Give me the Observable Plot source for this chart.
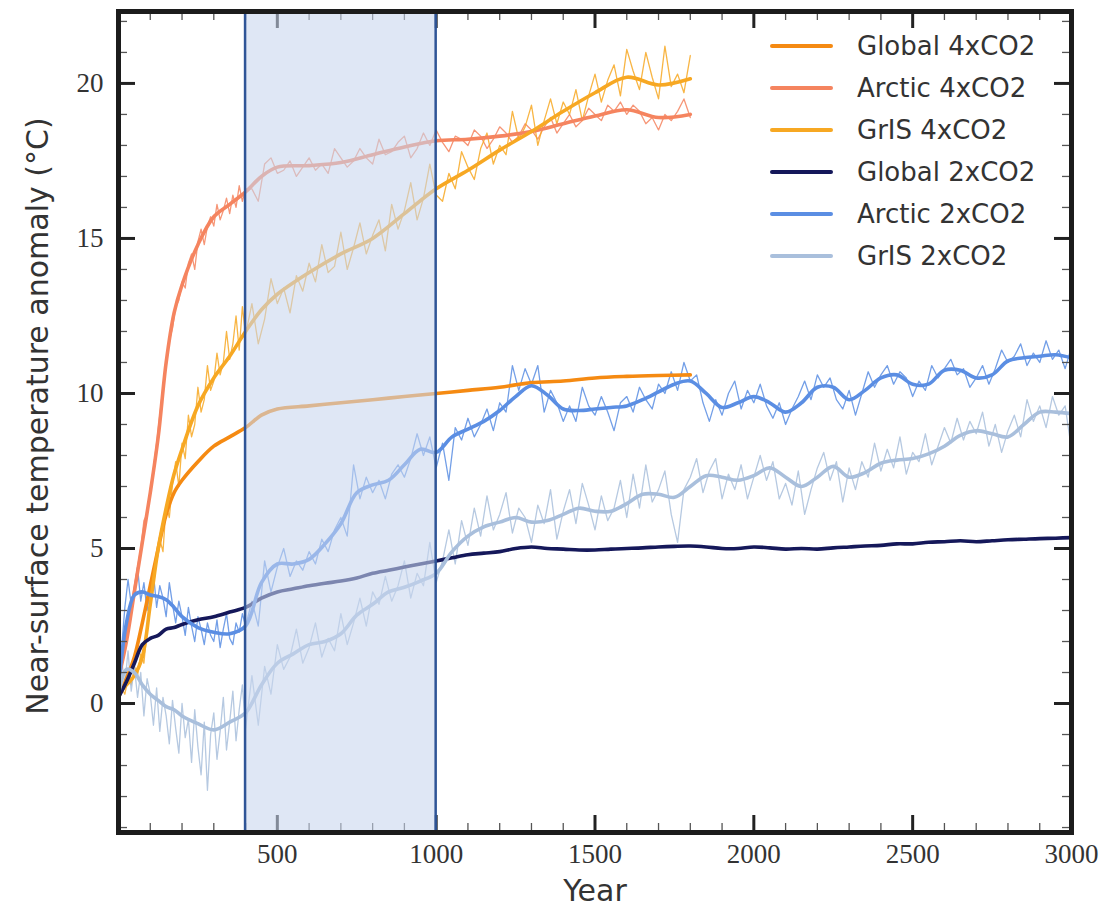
<!DOCTYPE html>
<html><head><meta charset="utf-8">
<script src="https://cdn.jsdelivr.net/npm/d3@7"></script>
<script src="https://cdn.jsdelivr.net/npm/@observablehq/plot@0.6"></script>
<style>
body{margin:0;background:#fff;}
#wrap{position:relative;width:1107px;height:920px;}
#legend{position:absolute;left:770px;top:25px;font-family:"DejaVu Sans";font-size:26px;color:#333;}
.item{display:flex;align-items:center;height:42px;}
.sw{width:63px;height:4px;border-radius:2px;margin-right:24px;}
</style></head><body><div id="wrap"><div id="legend"></div></div>
<script>
// ---------- data ----------
const seriesNames = ["Global 4xCO2","Arctic 4xCO2","GrIS 4xCO2","Global 2xCO2","Arctic 2xCO2","GrIS 2xCO2"];
const seriesColors = ["#f58a12","#f5845f","#f7a823","#15185a","#5b8ee3","#a9bfdc"];
const xTickValues = [500,1000,1500,2000,2500,3000];
const yTickValues = [0,5,10,15,20];
const xLabel = "Year";
const yLabel = "Near-surface temperature anomaly (°C)";
const shadedPeriod = [400, 1000];

const smooth4Years = [0,25,50,75,100,125,150,175,200,250,300,350,400,450,500,600,700,800,900,1000,1100,1200,1300,1400,1500,1600,1700,1800];
const global4Smooth = [0.2,0.8,1.5,2.6,3.8,5.0,6.1,6.8,7.2,7.8,8.3,8.6,8.9,9.3,9.5,9.6,9.7,9.8,9.9,10.0,10.1,10.2,10.35,10.4,10.5,10.55,10.58,10.6];
const arctic4Smooth = [0.8,2.0,3.6,5.2,6.8,8.6,11.0,12.6,13.5,14.8,15.7,16.1,16.5,17.0,17.3,17.35,17.45,17.7,17.95,18.15,18.2,18.3,18.45,18.7,18.95,19.15,18.9,19.0];
const gris4Smooth = [0.3,0.6,0.9,1.5,3.2,5.0,6.3,7.4,8.2,9.6,10.5,11.2,12.0,12.7,13.2,13.9,14.5,15.0,15.8,16.6,17.2,17.85,18.45,19.1,19.7,20.2,19.95,20.15];

const smooth2Years = [0,25,50,75,100,125,150,175,200,250,300,350,400,450,500,550,600,650,700,750,800,850,900,950,1000,
  1050,1100,1150,1200,1250,1300,1350,1400,1450,1500,1550,1600,1650,1700,1750,1800,1850,1900,1950,2000,
  2050,2100,2150,2200,2250,2300,2350,2400,2450,2500,2550,2600,2650,2700,2750,2800,2850,2900,2950,3000];
const global2Smooth = [0.2,0.7,1.3,1.9,2.1,2.2,2.4,2.45,2.55,2.7,2.8,2.95,3.1,3.4,3.6,3.7,3.8,3.88,3.95,4.05,4.2,4.3,4.4,4.5,4.6,
  4.7,4.8,4.85,4.9,5.0,5.05,5.0,4.98,4.95,4.95,4.98,5.0,5.02,5.05,5.07,5.08,5.05,5.0,5.0,5.05,
  5.02,4.98,5.0,4.98,5.02,5.05,5.08,5.1,5.15,5.15,5.2,5.22,5.25,5.22,5.25,5.28,5.3,5.32,5.33,5.35];
const arctic2Smooth = [0.5,2.6,3.5,3.6,3.5,3.45,3.35,3.1,2.8,2.45,2.3,2.25,2.5,3.9,4.5,4.5,4.65,5.15,5.8,6.8,7.05,7.2,7.7,8.2,8.1,
  8.6,8.85,9.1,9.45,9.9,10.25,9.95,9.5,9.45,9.5,9.55,9.6,9.8,10.05,10.3,10.4,10.0,9.55,9.7,9.9,
  9.7,9.4,9.7,10.2,10.2,9.8,10.1,10.5,10.6,10.3,10.3,10.75,10.75,10.5,10.6,11.05,11.15,11.2,11.25,11.15];
const gris2Smooth = [0.3,1.1,1.0,0.6,0.3,0.1,-0.1,-0.2,-0.4,-0.65,-0.85,-0.6,-0.3,0.6,1.3,1.6,1.9,2.0,2.25,2.85,3.2,3.6,3.75,3.95,4.2,
  4.9,5.4,5.7,5.85,6.0,5.85,5.9,6.1,6.3,6.2,6.2,6.45,6.75,6.75,6.65,7.0,7.35,7.3,7.2,7.35,
  7.6,7.3,7.0,7.3,7.65,7.3,7.45,7.75,7.85,7.9,8.05,8.3,8.65,8.8,8.7,8.6,9.0,9.4,9.4,9.35];

// raw (unsmoothed) values: years 0..400 every 10, then every 20
const arctic4RawEarly = [0.2,1.3,1.9,2.7,3.2,3.8,4.4,5.0,5.9,6.1, 6.9,7.6,8.4,9.3,10.2,10.9,11.7,12.1,12.8,13.0, 13.6,13.4,14.2,14.5,14.0,14.9,15.3,14.8,15.4,15.7, 15.4,16.1,15.6,15.9,16.3,15.8,16.4,16.0,16.7,16.2, 16.6];
const arctic4RawLate = [16.6,16.2,17.4,17.6,17.1,17.2,17.5,17.0,17.3,17.6,
  17.2,17.4,17.1,17.9,17.6,17.3,17.5,17.9,17.6,17.4,
  18.2,17.7,17.8,18.1,18.3,17.6,17.9,18.4,18.0,18.5,
  18.1,17.8,18.3,18.2,18.0,18.5,18.3,17.9,18.2,18.6,
  18.4,18.1,18.3,18.7,18.5,18.2,18.6,18.9,18.4,18.7,
  19.0,18.6,18.8,19.2,19.0,18.8,19.3,19.1,19.4,19.0,
  19.3,19.1,18.7,18.9,18.5,19.0,18.8,19.1,19.5,18.9];
const gris4RawEarly = [0.1,0.5,0.3,0.8,0.6,1.2,0.9,1.6,1.3,2.4, 3.1,3.8,4.6,5.3,4.9,6.4,6.0,7.1,7.8,7.0, 8.4,7.9,9.3,8.6,9.0,10.2,9.4,9.8,10.9,10.1, 10.4,11.3,10.6,11.0,12.0,11.1,11.6,12.5,11.4,12.8, 11.9];
const gris4RawLate = [12.9,11.6,12.4,13.7,12.9,13.4,12.6,13.8,13.3,14.2,
  13.6,14.8,13.9,14.1,15.2,14.0,14.7,15.5,14.5,15.1,
  15.6,14.6,16.1,15.3,15.9,16.8,15.6,16.3,17.4,16.4,
  16.2,17.1,16.6,17.8,17.3,16.9,17.9,18.4,17.4,18.0,
  17.7,19.1,18.2,18.6,19.3,18.0,18.8,19.5,18.7,19.4,
  19.0,19.8,18.8,19.6,20.3,19.4,20.1,20.6,19.6,21.1,
  20.4,19.8,21.0,20.2,19.5,21.2,19.9,20.3,19.7,20.9];
const arctic2RawEarly = [0.0,1.8,3.1,4.0,3.2,3.7,4.4,3.3,3.9,3.0, 3.6,4.2,3.1,3.8,3.4,2.8,3.9,3.2,2.6,3.3, 2.8,2.2,3.1,2.5,2.0,2.8,2.4,1.9,2.6,2.2, 2.0,2.7,1.8,2.4,2.9,2.1,1.9,2.6,2.3,2.9, 2.5];
const arctic2RawLate = [3.3,2.5,4.6,3.6,4.4,5.0,4.1,4.6,4.3,4.9,
  4.5,5.3,4.9,5.6,6.0,5.4,7.7,6.6,7.3,6.8,
  7.2,6.6,7.4,7.7,7.3,7.9,8.7,8.0,8.6,7.6,
  8.4,7.2,8.9,8.5,9.2,8.6,9.0,9.5,8.8,9.7,
  9.4,10.9,10.1,10.8,10.3,10.9,9.4,10.1,9.7,9.1,
  9.6,9.1,10.2,9.6,9.3,9.9,9.4,8.8,9.7,9.9,
  9.4,10.2,9.8,9.5,10.3,10.0,10.7,10.1,11.0,10.4,
  10.6,9.7,9.1,9.8,9.3,10.0,10.4,9.5,10.1,9.7,
  10.3,9.6,9.2,9.7,9.0,9.5,9.9,10.4,9.8,10.6,
  10.2,10.5,9.8,9.5,10.1,9.3,10.0,10.7,10.2,10.6,
  10.9,10.3,10.7,10.5,9.9,10.4,10.1,10.9,10.5,10.8,
  11.1,10.6,10.8,10.2,10.5,10.9,10.3,10.8,11.4,11.0,
  11.2,11.6,10.9,11.3,11.0,11.7,11.1,11.4,10.8,11.5];
const gris2RawEarly = [-0.1,1.4,0.6,1.7,0.4,1.2,0.2,1.0,-0.4,0.8, 0.3,-0.7,0.5,-0.9,0.2,-0.4,-1.3,0.1,-0.8,-1.6, 0.0,-1.1,-0.5,-1.9,-0.2,-1.4,-2.3,-0.6,-2.8,-1.0, -0.3,-1.8,-0.9,0.2,-1.5,-0.6,0.4,-1.2,-0.2,0.6, -0.8];
const gris2RawLate = [0.9,-0.7,1.2,0.3,1.9,1.1,1.5,2.4,1.3,1.8,
  2.6,1.5,2.1,1.7,2.9,1.9,2.6,3.4,2.5,3.6,
  3.2,4.1,3.3,3.8,4.6,3.4,4.2,3.8,5.2,3.9,
  4.6,5.6,4.5,5.9,5.1,6.3,5.4,6.7,5.6,6.1,
  6.8,5.5,6.3,6.0,5.2,6.4,5.8,6.9,5.3,6.2,
  6.9,5.8,7.1,6.4,5.6,6.7,5.9,6.3,7.2,6.0,
  7.4,6.3,7.7,6.5,6.9,7.5,6.1,5.2,6.9,7.3,
  7.9,6.8,7.5,7.9,6.6,7.4,6.9,7.7,6.6,7.3,
  8.0,7.2,7.8,6.6,7.1,6.4,7.5,6.1,6.9,7.6,
  8.1,7.2,7.8,6.5,7.6,6.9,7.8,7.3,8.4,7.5,
  8.2,7.6,8.6,7.4,8.1,7.8,8.7,7.7,8.3,8.9,
  8.4,9.2,8.5,9.1,8.7,9.4,8.3,9.0,8.1,8.8,
  9.3,8.6,9.8,9.1,9.6,8.9,9.9,9.3,9.6,8.2];

// ---------- build ----------
const earlyYears = d3.range(0, 401, 10);
const rawYears4 = earlyYears.concat(d3.range(420, 1801, 20));
const rawYears2 = earlyYears.concat(d3.range(420, 3001, 20));
const zip = (years, vals) => years.slice(0, Math.min(years.length, vals.length)).map((x, i) => ({x, y: vals[i]}));

const color = Object.fromEntries(seriesNames.map((n, i) => [n, seriesColors[i]]));
const smooth = [
  ["Global 4xCO2", zip(smooth4Years, global4Smooth)],
  ["Arctic 4xCO2", zip(smooth4Years, arctic4Smooth)],
  ["GrIS 4xCO2", zip(smooth4Years, gris4Smooth)],
  ["Global 2xCO2", zip(smooth2Years, global2Smooth)],
  ["Arctic 2xCO2", zip(smooth2Years, arctic2Smooth)],
  ["GrIS 2xCO2", zip(smooth2Years, gris2Smooth)]
];
const raw = [
  ["Arctic 4xCO2", zip(rawYears4, arctic4RawEarly.concat(arctic4RawLate))],
  ["GrIS 4xCO2", zip(rawYears4, gris4RawEarly.concat(gris4RawLate))],
  ["Arctic 2xCO2", zip(rawYears2, arctic2RawEarly.concat(arctic2RawLate))],
  ["GrIS 2xCO2", zip(rawYears2, gris2RawEarly.concat(gris2RawLate))]
];

const W = 1107, H = 920, mt = 11, mr = 36, mb = 88, ml = 118;
const plotW = W - ml - mr, plotH = H - mt - mb;
const yMin = -4.16, yMax = 22.32;
const minorX = d3.range(100, 3000, 100).filter(d => d % 500 !== 0);
const majorX = d3.range(500, 3000, 500);
const minorY = d3.range(-4, 23, 1).filter(d => d % 5 !== 0);
const majorY = yTickValues;

function ticks() {
  const out = [];
  const mk = (len, sw, st) => ({stroke: st, strokeWidth: sw, len});
  for (const [vals, o] of [[minorX, mk(9, 1.3, "#555")], [majorX, mk(17, 3, "#222")]]) {
    out.push(Plot.ruleX(vals, {x: d => d, insetTop: plotH - o.len, stroke: o.stroke, strokeWidth: o.strokeWidth}));
    out.push(Plot.ruleX(vals, {x: d => d, insetBottom: plotH - o.len, stroke: o.stroke, strokeWidth: o.strokeWidth}));
  }
  for (const [vals, o] of [[minorY, mk(9, 1.3, "#555")], [majorY, mk(17, 3, "#222")]]) {
    out.push(Plot.ruleY(vals, {y: d => d, insetRight: plotW - o.len, stroke: o.stroke, strokeWidth: o.strokeWidth}));
    out.push(Plot.ruleY(vals, {y: d => d, insetLeft: plotW - o.len, stroke: o.stroke, strokeWidth: o.strokeWidth}));
  }
  return out;
}

const chart = Plot.plot({
  width: W, height: H,
  marginTop: mt, marginRight: mr, marginBottom: mb, marginLeft: ml,
  style: {background: "white", color: "#333", overflow: "visible"},
  x: {domain: [0, 3000]},
  y: {domain: [yMin, yMax]},
  marks: [
    ...raw.map(([n, d]) => Plot.line(d, {x: "x", y: "y", stroke: color[n], strokeWidth: 1.3, strokeOpacity: 0.85})),
    ...smooth.map(([n, d]) => Plot.line(d, {x: "x", y: "y", stroke: color[n], strokeWidth: 3.6, curve: "catmull-rom", strokeLinecap: "round"})),
    ...ticks(),
    Plot.rect([{x1: shadedPeriod[0], x2: shadedPeriod[1]}], {x1: "x1", x2: "x2", y1: yMin, y2: yMax, fill: "#c8d6ee", fillOpacity: 0.58, stroke: "#2f5597", strokeWidth: 2.5}),
    Plot.frame({stroke: "#1c1c1c", strokeWidth: 5}),
    Plot.axisX(xTickValues, {tickSize: 0, tickPadding: 11, fontSize: 27, fontFamily: "Liberation Serif", tickFormat: d => String(d), label: null}),
    Plot.axisY(yTickValues, {tickSize: 0, tickPadding: 15, fontSize: 27, fontFamily: "Liberation Serif", tickFormat: d => String(d), label: null}),
    Plot.text([xLabel], {text: d => d, frameAnchor: "bottom", dy: 68, fontSize: 30, fontFamily: "DejaVu Sans", fill: "#333"}),
    Plot.text([yLabel], {text: d => d, frameAnchor: "left", textAnchor: "middle", dx: -80, dy: -6, rotate: -90, fontSize: 30, fontFamily: "DejaVu Sans", fill: "#333"})
  ]
});
document.getElementById("wrap").prepend(chart);

const legend = document.getElementById("legend");
seriesNames.forEach((n, i) => {
  const row = document.createElement("div");
  row.className = "item";
  row.innerHTML = `<span class="sw" style="background:${seriesColors[i]}"></span><span>${n}</span>`;
  legend.appendChild(row);
});
</script>
</body></html>
